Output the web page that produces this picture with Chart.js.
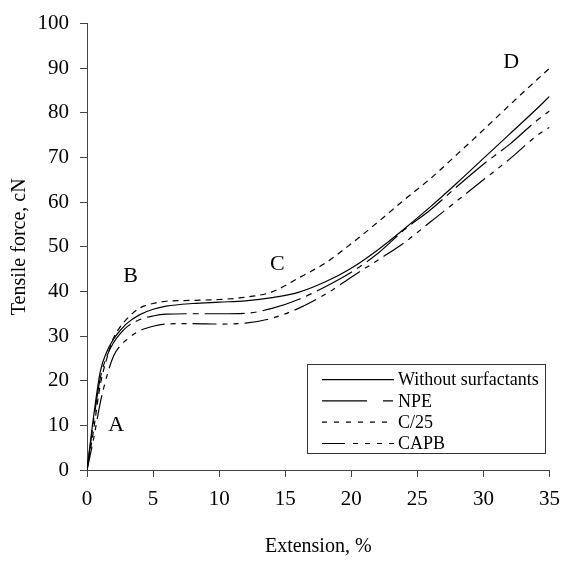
<!DOCTYPE html>
<html>
<head>
<meta charset="utf-8">
<script src="https://cdn.jsdelivr.net/npm/chart.js@4/dist/chart.umd.min.js"></script>
<style>
html,body{margin:0;padding:0;background:#fff;}
#wrap{width:570px;height:564px;}
</style>
</head>
<body>
<div id="wrap"><canvas id="c" width="570" height="564"></canvas></div>
<script>
const extension = [0, 0.5, 1, 1.5, 2, 2.5, 3, 4, 5, 6, 8, 10, 12, 14, 16, 18, 20, 22, 24, 26, 28, 30, 32, 34, 35];
const withoutSurfactants = [0, 12, 22, 26.5, 29.3, 31.2, 32.8, 34.8, 36, 36.7, 37.3, 37.6, 37.9, 38.6, 39.8, 42.1, 45.2, 49.3, 54, 59, 64.3, 69.8, 75.3, 80.8, 83.7];
const npe = [0, 11, 20.5, 25.5, 28.5, 30.5, 32, 33.7, 34.5, 34.9, 35, 35, 35.1, 36.2, 38.2, 41, 44.3, 48.5, 53.8, 58.3, 63.5, 68.5, 73, 78.2, 80.4];
const c25 = [0, 9, 19, 25, 29.5, 32, 33.8, 36.3, 37.3, 37.8, 38, 38.2, 38.7, 39.9, 43, 46.3, 50.7, 55.5, 60.5, 65.3, 70.7, 76.2, 81.8, 87.3, 90];
const capb = [0, 7, 15, 21, 25.5, 27.8, 29.2, 31.2, 32.2, 32.7, 32.8, 32.7, 32.9, 34, 36.2, 39.3, 43.2, 47, 50.9, 55.6, 60.3, 65, 69.7, 74.8, 76.8];
const seriesLabels = ["Without surfactants", "NPE", "C/25", "CAPB"];
const xTicks = [0, 5, 10, 15, 20, 25, 30, 35];
const yTicks = [0, 10, 20, 30, 40, 50, 60, 70, 80, 90, 100];
const annotations = [
  {text: "A", x: 2.2, y: 10},
  {text: "B", x: 3.3, y: 43.3},
  {text: "C", x: 14.4, y: 46},
  {text: "D", x: 32.1, y: 91.3}
];

const FONT = '"Liberation Serif", "DejaVu Serif", "Times New Roman", serif';
const lineDashes = [[], [40, 6, 6, 6], [6, 5], [24, 6, 5, 6, 5, 6]];
const legendDashes = [[], [45, 16, 10, 200], [5, 7], [23, 8, 5, 7, 5, 7, 5, 7, 5, 200]];
const seriesData = [withoutSurfactants, npe, c25, capb];

const datasets = seriesData.map((vals, i) => ({
  label: seriesLabels[i],
  data: extension.map((x, j) => ({x: x, y: vals[j]})),
  borderColor: '#000',
  borderWidth: 1.2,
  borderDash: lineDashes[i],
  pointRadius: 0,
  fill: false,
  cubicInterpolationMode: 'monotone'
}));

const overlay = {
  id: 'overlay',
  afterDraw(chart) {
    const ctx = chart.ctx;
    const xs = chart.scales.x, ys = chart.scales.y;
    ctx.save();
    ctx.fillStyle = '#000';
    ctx.font = '22px ' + FONT;
    ctx.textAlign = 'center';
    ctx.textBaseline = 'middle';
    annotations.forEach(a => {
      ctx.fillText(a.text, xs.getPixelForValue(a.x), ys.getPixelForValue(a.y));
    });
    // legend
    const ca = chart.chartArea;
    const bx = ca.left + 220, by = ca.top + 340;
    const bw = ca.right - 5 - bx, bh = ca.bottom - 17 - by;
    ctx.strokeStyle = '#333';
    ctx.lineWidth = 1;
    ctx.setLineDash([]);
    ctx.strokeRect(Math.round(bx) + 0.5, Math.round(by) + 0.5, Math.round(bw), Math.round(bh));
    ctx.font = '18px ' + FONT;
    ctx.textAlign = 'left';
    const rowH = 21.3;
    seriesLabels.forEach((lab, i) => {
      const yy = by + 16 + i * rowH;
      ctx.strokeStyle = '#000';
      ctx.lineWidth = 1.2;
      ctx.setLineDash(legendDashes[i]);
      ctx.beginPath();
      ctx.moveTo(bx + 15, yy);
      ctx.lineTo(bx + 87, yy);
      ctx.stroke();
      ctx.setLineDash([]);
      ctx.fillStyle = '#000';
      ctx.fillText(lab, bx + 91, yy + 1);
    });
    ctx.restore();
  }
};

new Chart(document.getElementById('c'), {
  type: 'line',
  data: {datasets: datasets},
  options: {
    responsive: false,
    animation: false,
    layout: {padding: {top: 20, right: 13, left: 0, bottom: 0}},
    plugins: {legend: {display: false}, tooltip: {enabled: false}},
    scales: {
      x: {
        type: 'linear',
        min: 0, max: 35,
        afterFit(s) { s.height = 94; },
        afterBuildTicks(s) { s.ticks = xTicks.map(v => ({value: v})); },
        grid: {display: true, drawOnChartArea: false, drawTicks: true, tickLength: 7, color: '#444'},
        border: {display: true, color: '#444', width: 1},
        ticks: {color: '#000', font: {family: FONT, size: 21}, padding: 10, maxRotation: 0},
        title: {display: true, text: 'Extension, %', color: '#000', font: {family: FONT, size: 20}, padding: {top: 0, bottom: 5}}
      },
      y: {
        type: 'linear',
        min: 0, max: 100,
        afterFit(s) { s.width = 87; },
        afterBuildTicks(s) { s.ticks = yTicks.map(v => ({value: v})); },
        grid: {display: true, drawOnChartArea: false, drawTicks: true, tickLength: 7, color: '#444'},
        border: {display: true, color: '#444', width: 1},
        ticks: {color: '#000', font: {family: FONT, size: 21}, padding: 11},
        title: {display: true, text: 'Tensile force, cN', color: '#000', font: {family: FONT, size: 20}, padding: {top: 8, bottom: 0}}
      }
    }
  },
  plugins: [overlay]
});
</script>
</body>
</html>
